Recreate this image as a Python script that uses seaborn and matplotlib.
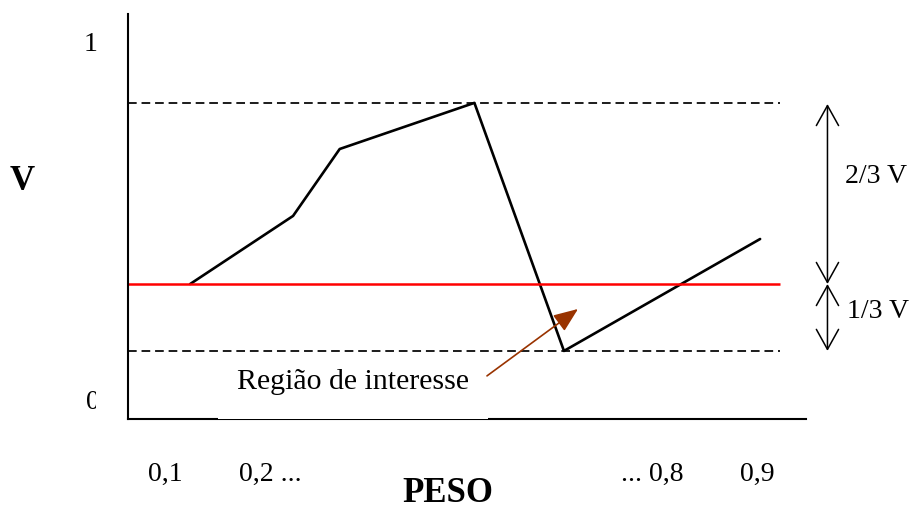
import numpy as np
import pandas as pd
import matplotlib
matplotlib.use('Agg')
import matplotlib.pyplot as plt
import seaborn as sns
from matplotlib.patches import Rectangle
from matplotlib.transforms import Bbox, TransformedBbox

# curve of V against PESO
peso = [0.134, 0.273, 0.336, 0.518, 0.639, 0.904]
v = [0.357, 0.537, 0.714, 0.836, 0.180, 0.476]

v_top = 0.836      # upper dashed line
v_limit = 0.357    # red line (1/3 V)
v_bottom = 0.180   # lower dashed line

xtick_pos = [0.1, 0.2, 0.8, 0.9]
xtick_labels = ['0,1', '0,2 ...', '... 0,8', '0,9']

df = pd.DataFrame({'PESO': peso, 'V': v})

sns.set_style('white')
plt.rcParams['font.family'] = ['Liberation Serif', 'DejaVu Serif']
plt.rcParams['text.color'] = 'black'
plt.rcParams['axes.labelcolor'] = 'black'
plt.rcParams['xtick.color'] = 'black'
plt.rcParams['ytick.color'] = 'black'

fig = plt.figure(figsize=(9.17, 5.10), dpi=100)
ax = fig.add_axes([128 / 917, 90 / 510, 678 / 917, 405 / 510])
ax.set_xlim(0.05, 0.966)
ax.set_ylim(0, 1.071)

sns.lineplot(data=df, x='PESO', y='V', color='black', lw=1.9, ax=ax, sort=False)

ax.hlines([v_top, v_bottom], 0.05, 0.931, colors='black', lw=1.25,
          linestyles=[(0, (5, 2.8))])
ax.hlines(v_limit, 0.05, 0.931, colors='#ff0000', lw=1.8)

# spines
for side in ['top', 'right']:
    ax.spines[side].set_visible(False)
for side in ['left', 'bottom']:
    ax.spines[side].set_color('black')
    ax.spines[side].set_linewidth(1.5)

ax.set_xticks(xtick_pos)
ax.set_xticklabels(xtick_labels, fontsize=20)
ax.tick_params(axis='x', length=0, pad=30)
for lab, ha in zip(ax.get_xticklabels(), ['center', 'left', 'right', 'center']):
    lab.set_ha(ha)

ax.set_yticks([1])
ax.set_yticklabels(['1'], fontsize=20)
ax.tick_params(axis='y', length=0, pad=22)

# clipped "0" label
t0 = ax.text(-0.052, 0.042, '0', fontsize=20, ha='center', va='center',
             transform=ax.transAxes, clip_on=True)
t0.set_clip_box(TransformedBbox(Bbox([[0, 0], [96 / 917, 1]]), fig.transFigure))

ax.set_ylabel('V', fontsize=25, fontweight='bold', rotation=0, ha='center', va='center')
ax.yaxis.set_label_coords(-0.156, 0.588)
ax.set_xlabel('PESO', fontsize=25, fontweight='bold', ha='center', va='center')
ax.xaxis.set_label_coords(0.472, -0.182)

# white box behind the caption
ax.add_patch(Rectangle((0.172, 0.0), 0.364, 0.16, facecolor='white',
                       edgecolor='none', zorder=3, clip_on=False))
ax.text(0.197, 0.1005, 'Região de interesse', fontsize=21.5, ha='left',
        va='center', zorder=4)

# brown pointer
ax.annotate('', xy=(0.658, 0.291), xytext=(0.535, 0.114),
            arrowprops=dict(arrowstyle='-|>,head_length=0.75,head_width=0.3',
                            color='#993300', lw=1.2, mutation_scale=20,
                            shrinkA=0, shrinkB=0), zorder=5)

# right side double arrows
arrow_style = dict(arrowstyle='<->,head_length=0.72,head_width=0.4', color='black',
                   lw=1.1, mutation_scale=20, shrinkA=0, shrinkB=0)
ax.annotate('', xy=(0.995, 0.833), xytext=(0.995, v_limit),
            arrowprops=arrow_style, annotation_clip=False)
ax.annotate('', xy=(0.995, v_limit), xytext=(0.995, v_bottom),
            arrowprops=arrow_style, annotation_clip=False)
ax.text(1.019, 0.643, '2/3 V', fontsize=20, ha='left', va='center', clip_on=False)
ax.text(1.022, 0.286, '1/3 V', fontsize=20, ha='left', va='center', clip_on=False)

plt.savefig('out.png', dpi=100)
